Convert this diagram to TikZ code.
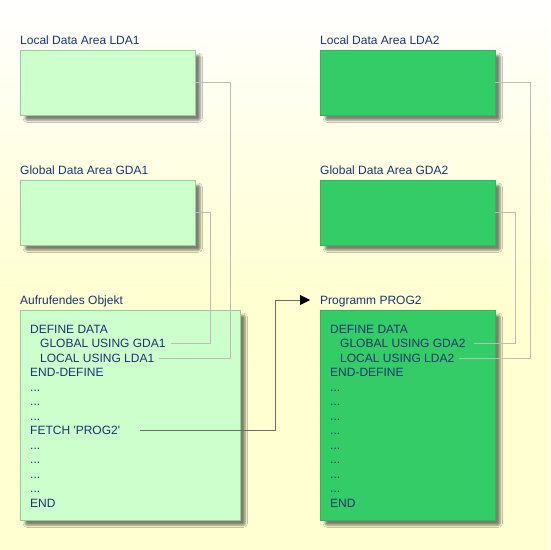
\documentclass[tikz,border=0pt]{standalone}
\usepackage{fontspec}
\setmainfont{Liberation Sans}
\usetikzlibrary{arrows.meta,shadows.blur}
\definecolor{bgyellow}{HTML}{FFFFD2}
\definecolor{ldagreen}{HTML}{CCFFCC}
\definecolor{ldaborder}{HTML}{99CCA0}
\definecolor{proggreen}{HTML}{33CC66}
\definecolor{progborder}{HTML}{2EB85E}
\definecolor{txtblue}{HTML}{1A3570}
\definecolor{linkgray}{HTML}{BDBDB5}
\definecolor{shadowbrown}{HTML}{B8A888}

\tikzset{
  areabox/.style={draw=ldaborder,fill=ldagreen,anchor=north west,inner sep=0,
    minimum width=175pt,minimum height=65pt,
    blur shadow={shadow xshift=5pt,shadow yshift=-5pt,shadow blur steps=6,
      shadow blur extra rounding=2pt,shadow opacity=50,shadow scale=1}},
  callbox/.style={areabox,minimum width=220pt,minimum height=210pt},
  progbox/.style={areabox,draw=progborder,fill=proggreen,minimum height=210pt},
  darkbox/.style={areabox,draw=progborder,fill=proggreen},
  title/.style={anchor=base west,inner sep=0,text=txtblue,font=\fontsize{12}{14}\selectfont},
  codeline/.style={anchor=west,inner sep=0,text=txtblue,text height=8.6pt,text depth=0pt,
    font=\fontsize{12}{14}\selectfont},
  link/.style={draw=linkgray,line width=0.8pt},
  fetchlink/.style={draw=gray!85!black,line width=0.8pt}
}

\begin{document}
\begin{tikzpicture}[x=1pt,y=-1pt]
\useasboundingbox (0,0) rectangle (550,550);
\shade[top color=white,bottom color=bgyellow,middle color=bgyellow!55] (0,0) rectangle (550,300);
\fill[bgyellow] (0,300) rectangle (550,550);

% caller side
\node[title] at (20,44) {Local Data Area LDA1};
\node[areabox] (lda1) at (20,50) {};
\node[title] at (20,174) {Global Data Area GDA1};
\node[areabox] (gda1) at (20,180) {};
\node[title] at (20,304) {Aufrufendes Objekt};
\node[callbox] (caller) at (20,310) {};

% called side
\node[title] at (320,44) {Local Data Area LDA2};
\node[darkbox] (lda2) at (320,50) {};
\node[title] at (320,174) {Global Data Area GDA2};
\node[darkbox] (gda2) at (320,180) {};
\node[title] (proglab) at (320,304) {Programm PROG2};
\node[progbox] (prog) at (320,310) {};

% code
\node[codeline] at (30,329) {DEFINE DATA};
\node[codeline] (glob1) at (40,343.5) {GLOBAL USING GDA1};
\node[codeline] (loc1) at (40,358) {LOCAL USING LDA1};
\node[codeline] at (30,372.5) {END-DEFINE};
\foreach \i in {4,5,6,8,9,10,11}
  \node[codeline] at (30,329+14.5*\i) {...};
\node[codeline] (fetch) at (30,445-14.5) {FETCH \textquotesingle PROG2\textquotesingle};
\node[codeline] at (30,503) {END};

\node[codeline] at (330,329) {DEFINE DATA};
\node[codeline] (glob2) at (340,343.5) {GLOBAL USING GDA2};
\node[codeline] (loc2) at (340,358) {LOCAL USING LDA2};
\node[codeline] at (330,372.5) {END-DEFINE};
\foreach \i in {4,...,11}
  \node[codeline] at (330,329+14.5*\i) {...};
\node[codeline] at (330,503) {END};

% connections
\coordinate (bend) at (275,300);
\draw[link] (lda1.east) -- ++(35,0) |- ([xshift=5pt]loc1.east);
\draw[link] (gda1.east) -- ++(15,0) |- ([xshift=5pt]glob1.east);
\draw[link] (lda2.east) -- ++(35,0) |- ([xshift=5pt]loc2.east);
\draw[link] (gda2.east) -- ++(20,0) |- ([xshift=8pt]glob2.east);
\draw[fetchlink,-{Triangle[length=10pt,width=10pt,black]}]
  ([xshift=20pt]fetch.east) -| (bend) -- ([xshift=-10pt]proglab.base west |- bend);
\end{tikzpicture}
\end{document}
